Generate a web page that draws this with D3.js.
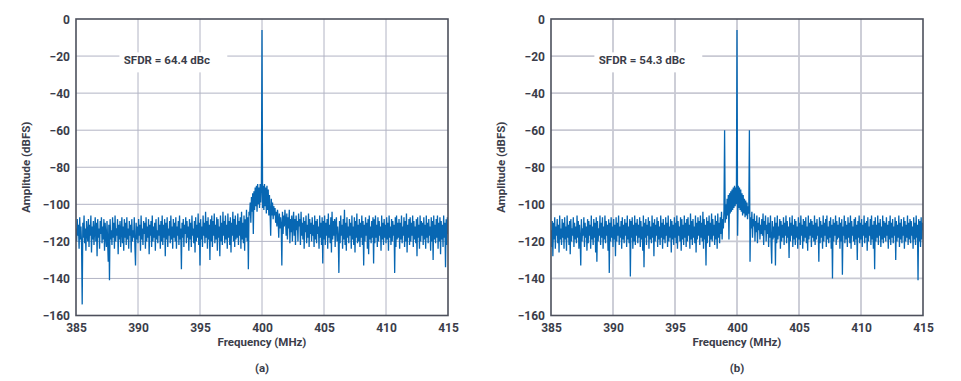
<!DOCTYPE html>
<html>
<head>
<meta charset="utf-8">
<script src="https://cdn.jsdelivr.net/npm/d3@7"></script>
<style>
  html, body { margin: 0; padding: 0; background: #fff; }
  svg { display: block; }
  text { font-family: Roboto, "Noto Sans", sans-serif; font-weight: 700; fill: #3b3d4a; }
</style>
</head>
<body>
<svg id="chart" width="961" height="381"></svg>
<script>
// ---- data ----
const freqStart = 385;   // MHz, first sample
const freqStep = 0.05;   // MHz between samples
const xTicks = [385, 390, 395, 400, 405, 410, 415];
const yTicks = [0, -20, -40, -60, -80, -100, -120, -140, -160];
const panelLabels = ["(a)", "(b)"];
const sfdrLabels = ["SFDR = 64.4 dBc", "SFDR = 54.3 dBc"];

// Panel (a) spectrum, dBFS, 385.00 .. 415.00 MHz (20 samples per MHz row)
const ampA = [
  -113,-120,-108,-117,-111,-124,-107,-119,-112,-122,-154,-110,-118,-106,-121,-113,-125,-109,-116,-120, // 385
  -108,-123,-111,-117,-106,-126,-112,-119,-109,-122,-114,-107,-120,-110,-128,-108,-118,-113,-124,-109, // 386
  -116,-107,-121,-112,-119,-108,-125,-110,-117,-123,-109,-120,-131,-111,-141,-108,-119,-114,-122,-107, // 387
  -118,-110,-124,-106,-120,-113,-117,-108,-127,-111,-119,-109,-123,-114,-107,-121,-112,-125,-108,-118, // 388
  -110,-122,-107,-119,-113,-124,-109,-117,-111,-126,-108,-120,-114,-118,-107,-123,-133,-110,-119,-112, // 389
  -121,-108,-117,-111,-125,-106,-119,-113,-122,-109,-116,-110,-124,-107,-120,-112,-118,-108,-127,-111, // 390
  -117,-109,-123,-106,-120,-112,-118,-110,-125,-108,-119,-114,-121,-107,-117,-111,-124,-109,-120,-106, // 391
  -122,-111,-118,-108,-128,-110,-119,-107,-123,-113,-117,-109,-121,-106,-119,-112,-124,-108,-118,-110, // 392
  -120,-107,-124,-112,-117,-109,-122,-106,-119,-113,-135,-110,-118,-108,-123,-111,-116,-107,-121,-109, // 393
  -118,-112,-125,-108,-119,-110,-123,-106,-117,-113,-121,-109,-126,-107,-120,-111,-118,-105,-122,-110, // 394
  -133,-108,-119,-112,-123,-106,-117,-110,-121,-104,-118,-109,-124,-107,-119,-111,-130,-108,-120,-106, // 395
  -123,-109,-117,-105,-121,-111,-119,-107,-125,-108,-118,-112,-128,-106,-120,-110,-122,-104,-117,-109, // 396
  -121,-106,-119,-111,-124,-105,-118,-109,-122,-107,-126,-110,-117,-104,-120,-108,-123,-106,-119,-111, // 397
  -118,-105,-122,-109,-117,-107,-124,-104,-119,-110,-121,-106,-125,-108,-118,-103,-120,-107,-135,-104, // 398
  -106,-99,-110,-96,-104,-94,-116,-93,-103,-91,-101,-90,-104,-89,-100,-91,-102,-89,-99,-92,            // 399
  -6,-102,-90,-103,-89,-101,-91,-105,-90,-103,-92,-106,-95,-104,-117,-97,-106,-99,-108,-101,           // 400
  -106,-102,-110,-104,-112,-103,-108,-118,-105,-113,-107,-111,-133,-104,-116,-106,-112,-103,-109,-117, // 401
  -105,-119,-107,-113,-103,-121,-108,-115,-106,-120,-110,-104,-117,-108,-122,-106,-114,-109,-120,-105, // 402
  -112,-108,-122,-104,-117,-110,-119,-107,-124,-109,-115,-106,-121,-111,-118,-105,-123,-108,-116,-110, // 403
  -120,-107,-117,-111,-123,-106,-119,-109,-121,-108,-116,-112,-124,-106,-118,-110,-122,-107,-132,-109, // 404
  -119,-106,-122,-110,-117,-108,-124,-105,-118,-111,-121,-107,-126,-104,-119,-109,-117,-108,-123,-110, // 405
  -107,-120,-112,-118,-137,-109,-121,-106,-117,-111,-124,-108,-119,-103,-122,-110,-125,-107,-118,-112, // 406
  -121,-108,-117,-110,-124,-106,-119,-112,-122,-107,-126,-109,-118,-105,-121,-111,-120,-108,-123,-110, // 407
  -118,-106,-122,-109,-133,-111,-120,-107,-117,-110,-124,-108,-127,-106,-119,-112,-121,-109,-118,-107, // 408
  -132,-108,-121,-106,-118,-111,-123,-107,-120,-109,-117,-112,-125,-106,-119,-110,-122,-108,-118,-111, // 409
  -121,-107,-119,-110,-125,-106,-118,-112,-122,-108,-120,-109,-117,-111,-137,-107,-123,-106,-119,-110, // 410
  -118,-108,-124,-110,-119,-106,-121,-112,-117,-107,-123,-109,-120,-105,-126,-111,-118,-108,-122,-107, // 411
  -120,-110,-117,-106,-123,-109,-119,-112,-121,-108,-128,-107,-118,-111,-124,-106,-120,-109,-117,-110, // 412
  -122,-107,-119,-111,-124,-106,-118,-110,-121,-108,-117,-112,-125,-107,-120,-109,-130,-106,-119,-111, // 413
  -121,-108,-118,-106,-124,-110,-120,-107,-127,-109,-119,-111,-123,-106,-118,-110,-134,-108,-122,-107, // 414
  -116                                                                                                 // 415
];

// Panel (b) spectrum, dBFS, 385.00 .. 415.00 MHz (20 samples per MHz row)
const ampB = [
  -114,-123,-109,-128,-110,-119,-107,-124,-112,-117,-108,-121,-111,-126,-106,-119,-113,-122,-108,-118, // 385
  -110,-124,-107,-119,-112,-125,-106,-118,-111,-122,-109,-127,-108,-120,-113,-117,-107,-123,-110,-119, // 386
  -112,-121,-106,-118,-109,-124,-111,-119,-133,-108,-120,-113,-117,-107,-123,-110,-118,-112,-125,-108, // 387
  -121,-109,-117,-111,-124,-106,-119,-112,-122,-108,-118,-110,-126,-107,-131,-109,-120,-113,-117,-106, // 388
  -122,-110,-118,-107,-124,-112,-119,-106,-121,-109,-117,-111,-125,-108,-137,-110,-120,-107,-118,-112, // 389
  -123,-108,-119,-111,-128,-107,-120,-110,-117,-106,-122,-112,-118,-109,-124,-107,-119,-111,-121,-108, // 390
  -117,-110,-123,-106,-119,-112,-121,-108,-139,-109,-118,-107,-124,-111,-120,-106,-122,-110,-117,-108, // 391
  -121,-111,-118,-107,-123,-109,-119,-112,-125,-106,-134,-110,-118,-108,-122,-111,-117,-107,-124,-109, // 392
  -119,-112,-121,-106,-118,-110,-128,-108,-120,-111,-117,-107,-123,-109,-119,-112,-122,-106,-118,-110, // 393
  -124,-108,-119,-111,-121,-107,-117,-110,-123,-106,-120,-112,-118,-108,-126,-109,-119,-111,-122,-107, // 394
  -118,-110,-121,-106,-124,-109,-117,-112,-120,-107,-125,-108,-119,-111,-122,-106,-118,-110,-123,-108, // 395
  -120,-107,-117,-111,-124,-105,-119,-109,-122,-108,-118,-112,-121,-106,-126,-110,-119,-107,-117,-109, // 396
  -122,-106,-118,-110,-120,-104,-124,-108,-119,-111,-133,-107,-121,-109,-117,-106,-123,-110,-119,-105, // 397
  -120,-108,-117,-111,-122,-106,-119,-109,-124,-105,-118,-110,-121,-107,-116,-104,-119,-108,-113,-103, // 398
  -60,-110,-100,-108,-97,-106,-95,-119,-94,-105,-93,-104,-92,-103,-91,-102,-90,-101,-91,-100,          // 399
  -6,-117,-90,-102,-91,-103,-92,-104,-94,-106,-95,-105,-97,-107,-98,-106,-99,-108,-101,-105,           // 400
  -60,-131,-107,-113,-104,-118,-108,-112,-105,-120,-109,-115,-106,-121,-110,-114,-107,-119,-111,-116,  // 401
  -108,-117,-105,-122,-109,-114,-106,-120,-111,-116,-107,-123,-110,-118,-106,-121,-132,-109,-119,-112, // 402
  -118,-107,-133,-110,-121,-106,-119,-112,-117,-108,-124,-109,-120,-111,-118,-107,-122,-110,-117,-106, // 403
  -121,-109,-118,-112,-129,-107,-120,-110,-117,-106,-123,-111,-119,-108,-122,-109,-118,-112,-124,-107, // 404
  -119,-110,-122,-106,-117,-111,-124,-108,-120,-109,-118,-107,-121,-112,-125,-106,-119,-110,-117,-108, // 405
  -123,-109,-118,-111,-120,-106,-122,-110,-119,-108,-117,-112,-131,-107,-121,-109,-118,-111,-124,-106, // 406
  -120,-110,-117,-108,-123,-106,-119,-112,-121,-109,-118,-107,-124,-111,-140,-108,-120,-110,-117,-106, // 407
  -122,-109,-119,-111,-118,-107,-124,-110,-120,-108,-138,-112,-117,-106,-121,-109,-119,-111,-123,-107, // 408
  -118,-110,-121,-106,-124,-109,-117,-112,-120,-108,-122,-107,-119,-111,-130,-109,-118,-106,-121,-110, // 409
  -119,-108,-123,-111,-117,-106,-121,-110,-118,-109,-125,-107,-120,-112,-117,-108,-122,-106,-119,-111, // 410
  -124,-109,-135,-107,-120,-111,-118,-106,-122,-110,-117,-108,-123,-112,-119,-106,-121,-109,-118,-110, // 411
  -120,-107,-117,-111,-124,-109,-119,-106,-122,-110,-118,-108,-121,-112,-117,-107,-130,-109,-120,-111, // 412
  -118,-106,-123,-110,-119,-108,-121,-112,-117,-107,-124,-109,-120,-111,-118,-106,-122,-110,-119,-108, // 413
  -121,-109,-117,-112,-124,-107,-119,-110,-122,-106,-118,-111,-141,-108,-120,-109,-123,-107,-119,-110, // 414
  -114                                                                                                 // 415
];

const seriesList = [ampA, ampB];

// ---- layout ----
const svg = d3.select("#chart");
const plotLefts = [76, 551];
const plotW = 372;
const plotTop = 19, plotBottom = 315.5;
const gridStyles = [
  { color: "#b2b4c4", width: 1 },
  { color: "#c8c9d3", width: 1.8 }
];

const fmt = d3.format("d"); // uses U+2212 minus

seriesList.forEach((amp, p) => {
  const left = plotLefts[p];
  const x = d3.scaleLinear().domain([385, 415]).range([left, left + plotW]);
  const y = d3.scaleLinear().domain([-160, 0]).range([plotBottom, plotTop]);
  const g = svg.append("g");

  // grid
  g.append("g").selectAll("line").data(xTicks.slice(1, -1)).join("line")
    .attr("x1", d => x(d)).attr("x2", d => x(d))
    .attr("y1", plotTop).attr("y2", plotBottom)
    .attr("stroke", gridStyles[p].color).attr("stroke-width", gridStyles[p].width);
  g.append("g").selectAll("line").data(yTicks.slice(1, -1)).join("line")
    .attr("y1", d => y(d)).attr("y2", d => y(d))
    .attr("x1", left).attr("x2", left + plotW)
    .attr("stroke", gridStyles[p].color).attr("stroke-width", gridStyles[p].width);

  // SFDR annotation box
  g.append("rect")
    .attr("x", x(388.5)).attr("y", y(-18))
    .attr("width", x(397.2) - x(388.5)).attr("height", y(-28.8) - y(-18))
    .attr("fill", "#fff");
  g.append("text")
    .attr("x", x(388.85)).attr("y", y(-24.5))
    .attr("font-size", 11.5)
    .text(sfdrLabels[p]);

  // spectrum line
  const clipId = "clip" + p;
  svg.append("clipPath").attr("id", clipId).append("rect")
    .attr("x", left).attr("y", plotTop).attr("width", plotW).attr("height", plotBottom - plotTop);
  const line = d3.line()
    .x((d, i) => x(freqStart + i * freqStep))
    .y(d => y(d));
  g.append("path")
    .datum(amp)
    .attr("clip-path", `url(#${clipId})`)
    .attr("d", line)
    .attr("fill", "none")
    .attr("stroke", "#0767b3")
    .attr("stroke-width", 1.3)
    .attr("stroke-linejoin", "bevel");

  // frame
  g.append("rect")
    .attr("x", left).attr("y", plotTop)
    .attr("width", plotW).attr("height", plotBottom - plotTop)
    .attr("fill", "none").attr("stroke", "#4d505c").attr("stroke-width", 1.6);

  // axes
  const xAxis = d3.axisBottom(x).tickValues(xTicks).tickSize(0).tickPadding(0).tickFormat(fmt);
  const xa = g.append("g").attr("transform", `translate(0,${plotBottom})`).call(xAxis);
  xa.select(".domain").remove();
  xa.selectAll("text").attr("dy", null).attr("y", 16).attr("font-size", 12)
    .attr("font-family", null).attr("fill", null);

  const yAxis = d3.axisLeft(y).tickValues(yTicks).tickSize(0).tickPadding(0).tickFormat(fmt);
  const ya = g.append("g").attr("transform", `translate(${left - 6},0)`).call(yAxis);
  ya.select(".domain").remove();
  ya.selectAll("text").attr("dy", "0.36em").attr("x", 0).attr("font-size", 12)
    .attr("font-family", null).attr("fill", null);

  // axis titles
  g.append("text")
    .attr("x", left + plotW / 2).attr("y", 346)
    .attr("text-anchor", "middle").attr("font-size", 11.5)
    .text("Frequency (MHz)");
  g.append("text")
    .attr("transform", `translate(${left - 50},${(plotTop + plotBottom) / 2}) rotate(-90)`)
    .attr("text-anchor", "middle").attr("dy", "0.36em").attr("font-size", 11.5)
    .text("Amplitude (dBFS)");
  g.append("text")
    .attr("x", left + plotW / 2).attr("y", 372)
    .attr("text-anchor", "middle").attr("font-size", 11.5)
    .text(panelLabels[p]);
});
</script>
</body>
</html>
